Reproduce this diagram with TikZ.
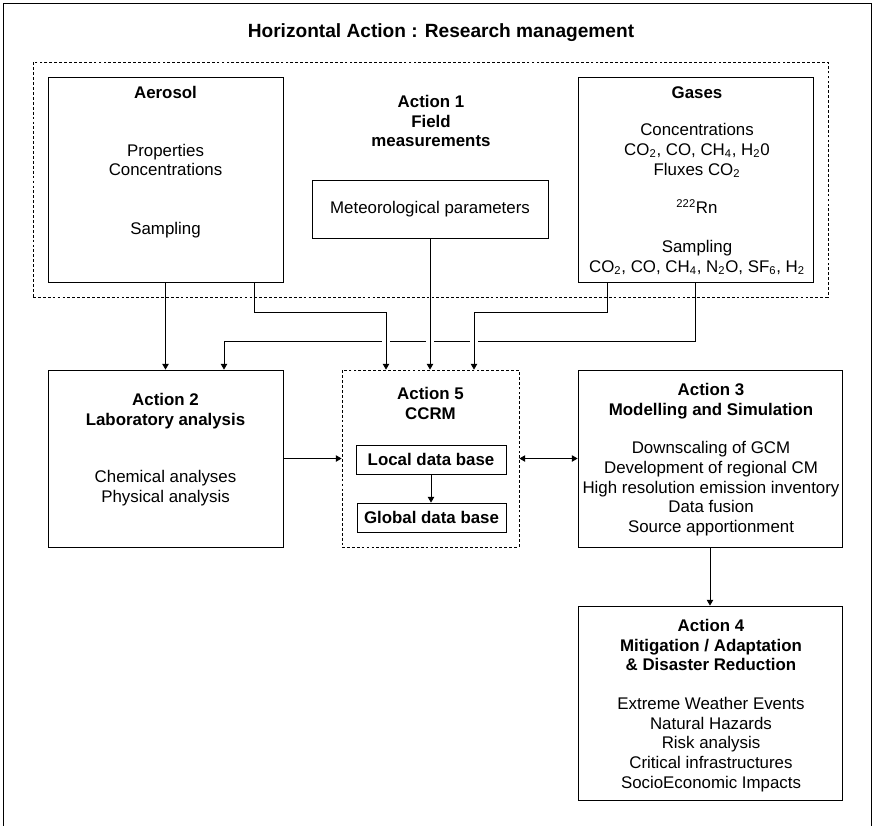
\documentclass[tikz,border=0pt]{standalone}
\usepackage{fontspec}
\setmainfont{Liberation Sans}
\usetikzlibrary{arrows.meta}
\pgfdeclarelayer{back}
\pgfsetlayers{back,main}
\begin{document}
\begin{tikzpicture}[x=1cm,y=1cm,
  font=\fontsize{12}{14}\selectfont,
  box/.style={draw, rectangle, line width=0.6pt, inner sep=0pt},
  dbox/.style={draw, rectangle, line width=0.6pt, dash pattern=on 2pt off 1.5pt, inner sep=0pt},
  txt/.style={align=center, anchor=north, inner sep=0pt},
  >={Triangle[width=4.5pt,length=4pt]},
  conn/.style={->, line width=0.6pt},
  hop/.style={preaction={draw=white, line width=5pt, -}}]
\useasboundingbox (0,0) rectangle (21.8,-20.625);
\draw[line width=0.7pt] (0.075,-0.075) rectangle (21.775,-21);
\node[anchor=base, font=\fontsize{13.6}{16}\selectfont\bfseries] (title) at (11.025,-0.925) {Horizontal Action : Research management};
% Action 1
\node[dbox, minimum width=19.875cm, minimum height=5.875cm] (act1) at (10.7625,-4.4875) {};
\node[box, minimum width=5.875cm, minimum height=5.125cm] (aer) at (4.1375,-4.4875) {};
\node[box, minimum width=5.875cm, minimum height=5.125cm] (gas) at (17.3875,-4.4875) {};
\node[box, minimum width=5.9cm, minimum height=1.45cm] (met) at (10.75,-5.225) {Meteorological parameters};
\node[txt] (aer-t) at (4.1375,-2.15) {\textbf{Aerosol}\\[0.95cm] Properties\\ Concentrations\\[0.975cm] Sampling};
\node[txt] (act1-t) at (10.775,-2.375) {\textbf{Action 1}\\ \textbf{Field}\\ \textbf{measurements}};
\node[txt] (gas-t) at (17.425,-2.15) {\textbf{Gases}\\[0.45cm] Concentrations\\ CO\textsubscript{2}, CO, CH\textsubscript{4}, H\textsubscript{2}0\\ Fluxes CO\textsubscript{2}\\[0.475cm] \textsuperscript{222}Rn\\[0.475cm] Sampling\\ CO\textsubscript{2}, CO, CH\textsubscript{4}, N\textsubscript{2}O, SF\textsubscript{6}, H\textsubscript{2}};
% lower row
\node[box, minimum width=5.875cm, minimum height=4.425cm] (act2) at (4.1375,-11.4625) {};
\node[dbox, minimum width=4.425cm, minimum height=4.425cm] (act5) at (10.7625,-11.4625) {};
\node[box, minimum width=6.6cm, minimum height=4.425cm] (act3) at (17.75,-11.4625) {};
\node[box, minimum width=6.6cm, minimum height=4.85cm] (act4) at (17.75,-17.575) {};
\node[box, minimum width=3.75cm, minimum height=0.725cm, font=\fontsize{12}{14}\selectfont\bfseries] (local) at (10.775,-11.4875) {Local data base};
\node[box, minimum width=3.725cm, minimum height=0.725cm, font=\fontsize{12}{14}\selectfont\bfseries] (global) at (10.7875,-12.9375) {Global data base};
\node[txt] (act2-t) at (4.1375,-9.825) {\textbf{Action 2}\\ \textbf{Laboratory analysis}\\[0.95cm] Chemical analyses\\ Physical analysis};
\node[txt] (act5-t) at (10.7625,-9.675) {\textbf{Action 5}\\ \textbf{CCRM}};
\node[txt] (act3-t) at (17.775,-9.575) {\textbf{Action 3}\\ \textbf{Modelling and Simulation}\\[0.475cm] Downscaling of GCM\\ Development of regional CM\\ High resolution emission inventory\\ Data fusion\\ Source apportionment};
\node[txt] (act4-t) at (17.775,-15.475) {\textbf{Action 4}\\ \textbf{Mitigation / Adaptation}\\ \textbf{\& Disaster Reduction}\\[0.475cm] Extreme Weather Events\\ Natural Hazards\\ Risk analysis\\ Critical infrastructures\\ SocioEconomic Impacts};
% connectors
\begin{pgfonlayer}{back}
\fill[white] (0,0) rectangle (21.8,-20.625);
\draw[conn] (gas.south) -- ++(0,-1.475) -| ([xshift=1.4625cm]act2.north);
\draw[conn] (aer.south) -- (act2.north);
\draw[conn, hop] ([xshift=2.2125cm]aer.south) -- ++(0,-0.75) -| ([xshift=-1.1125cm]act5.north);
\draw[conn, hop] (met.south) -- (met.south |- act5.north);
\draw[conn, hop] ([xshift=-2.2125cm]gas.south) -- ++(0,-0.75) -| ([xshift=1.0875cm]act5.north);
\draw[conn] (act2.east) -- (act5.west);
\draw[conn, <->] (act5.east) -- (act3.west);
\draw[conn] (local.south) -- (local.south |- global.north);
\draw[conn] (act3.south) -- (act4.north);
\end{pgfonlayer}
\end{tikzpicture}
\end{document}
